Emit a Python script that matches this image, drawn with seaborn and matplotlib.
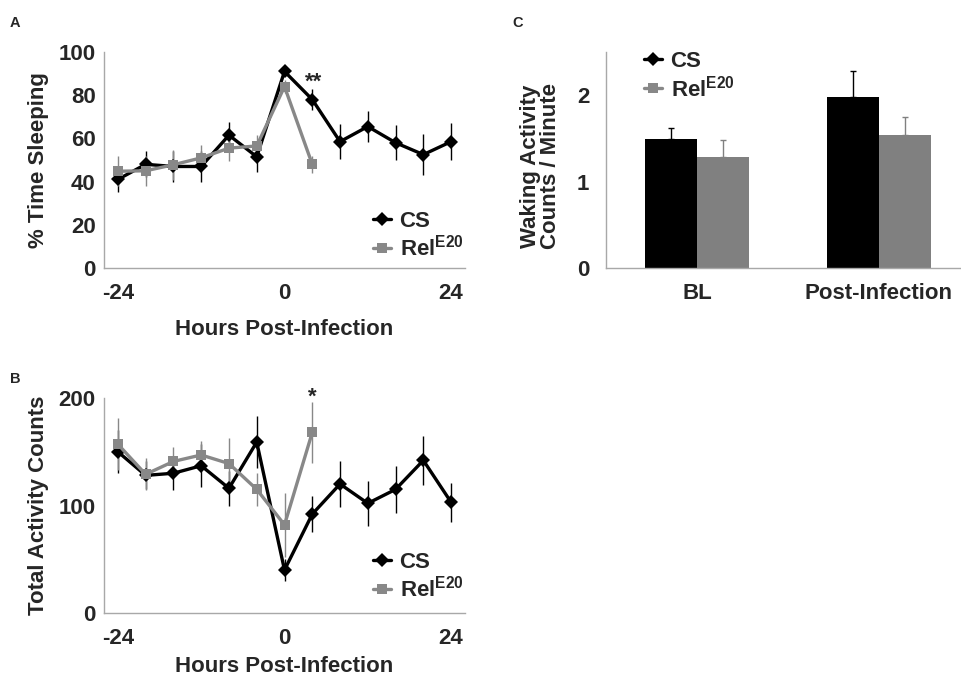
import numpy as np
import pandas as pd
import matplotlib
matplotlib.use("Agg")
import matplotlib.pyplot as plt
from matplotlib.lines import Line2D
from matplotlib.ticker import MultipleLocator, FixedLocator, NullFormatter
import seaborn as sns

# ---------------- data ----------------
hours_cs = [-24, -20, -16, -12, -8, -4, 0, 4, 8, 12, 16, 20, 24]
hours_rel = [-24, -20, -16, -12, -8, -4, 0, 4]

cs_sleep = [41.0, 48.0, 47.0, 47.0, 61.5, 51.5, 91.0, 78.0, 58.5, 65.5, 58.0, 52.5, 58.5]
cs_sleep_err = [6, 6, 7, 7, 6, 7, 2, 5, 8, 7, 8, 9.5, 8.5]
rel_sleep = [44.8, 45.0, 47.8, 51.0, 55.5, 56.5, 84.0, 48.0]
rel_sleep_err = [7, 7, 7, 6, 6, 5, 3, 4]

cs_act = [150, 128, 130, 137, 116, 159, 40, 92, 120, 102, 115, 142, 103]
cs_act_err = [20, 13, 16, 20, 16, 24, 10, 17, 21, 21, 22, 23, 18]
rel_act = [157, 129, 141, 147, 139, 115, 82, 168]
rel_act_err = [24, 15, 13, 13, 24, 15, 30, 28]

bar_conditions = ["BL", "Post-Infection"]
cs_wake = [1.49, 1.98]
cs_wake_err = [0.13, 0.30]
rel_wake = [1.29, 1.54]
rel_wake_err = [0.19, 0.21]

CS_LABEL = "CS"
REL_LABEL = "Rel$^{\\mathregular{E20}}$"
BLACK = "#000000"
GREY = "#888888"
BAR_GREY = "#808080"
AXIS_GREY = "#a8a8a8"

sns.set_theme(style="white")
plt.rcParams["font.family"] = ["Liberation Sans", "DejaVu Sans"]
plt.rcParams["font.weight"] = "bold"
plt.rcParams["axes.labelweight"] = "bold"

FS = 16

fig = plt.figure(figsize=(9.61, 6.81), dpi=100)
W, H = 961.0, 681.0

def axes_px(left, top, right, bottom):
    return fig.add_axes([left / W, 1 - bottom / H, (right - left) / W, (bottom - top) / H])

axA = axes_px(104, 52, 465, 268)
axB = axes_px(104, 398, 465, 613)
axC = axes_px(606, 52, 970, 268)

def style_axes(ax):
    for s in ["top", "right"]:
        ax.spines[s].set_visible(False)
    for s in ["left", "bottom"]:
        ax.spines[s].set_color(AXIS_GREY)
        ax.spines[s].set_linewidth(1.0)
    ax.tick_params(which="both", color=AXIS_GREY, width=0.8, direction="out")
    ax.grid(False)

LEG_KW = dict(frameon=False, fontsize=FS, handlelength=0.8, handletextpad=0.4,
              labelspacing=0.15, borderpad=0, borderaxespad=0)

def line_panel(ax, cs_vals, cs_err, rel_vals, rel_err):
    df = pd.DataFrame({
        "hour": hours_cs + hours_rel,
        "value": cs_vals + rel_vals,
        "err": cs_err + rel_err,
        "genotype": [CS_LABEL] * len(hours_cs) + [REL_LABEL] * len(hours_rel),
    })
    for g, col in [(CS_LABEL, BLACK), (REL_LABEL, GREY)]:
        sub = df[df.genotype == g]
        ax.errorbar(sub["hour"], sub["value"], yerr=sub["err"], fmt="none",
                    ecolor=col, elinewidth=1.0, capsize=0, zorder=1)
    sns.lineplot(data=df, x="hour", y="value", hue="genotype", style="genotype",
                 palette={CS_LABEL: BLACK, REL_LABEL: GREY},
                 markers={CS_LABEL: "D", REL_LABEL: "s"}, dashes=False,
                 markersize=7, markeredgewidth=0, linewidth=2.4,
                 errorbar=None, ax=ax, zorder=3)
    ax.set_xlim(-26, 26)
    ax.xaxis.set_major_locator(FixedLocator([-24, 0, 24]))
    ax.xaxis.set_minor_locator(MultipleLocator(4, offset=2))
    ax.tick_params(axis="x", which="major", length=0, pad=11, labelsize=FS)
    ax.tick_params(axis="x", which="minor", length=4)
    ax.tick_params(axis="y", which="both", length=4, pad=2, labelsize=FS)
    ax.set_xticklabels(["-24", "0", "24"], fontweight="bold")
    ax.set_xlabel("Hours Post-Infection", fontsize=FS, fontweight="bold")
    style_axes(ax)

# ---------------- panel A ----------------
line_panel(axA, cs_sleep, cs_sleep_err, rel_sleep, rel_sleep_err)
axA.set_ylim(0, 100)
axA.yaxis.set_major_locator(MultipleLocator(20))
axA.set_ylabel("% Time Sleeping", fontsize=FS, fontweight="bold")
axA.yaxis.set_label_coords(-0.152, 0.5)
axA.xaxis.set_label_coords(0.5, -0.235)
for t in axA.get_yticklabels():
    t.set_fontweight("bold")
sns.move_legend(axA, "upper left", bbox_to_anchor=(0.745, 0.265), title=None, **LEG_KW)
axA.text(4.2, 86, "**", ha="center", va="center", fontsize=FS, fontweight="bold")

# ---------------- panel B ----------------
line_panel(axB, cs_act, cs_act_err, rel_act, rel_act_err)
axB.set_ylim(0, 200)
axB.yaxis.set_major_locator(MultipleLocator(100))
axB.yaxis.set_minor_locator(MultipleLocator(50))
axB.yaxis.set_minor_formatter(NullFormatter())
axB.set_ylabel("Total Activity Counts", fontsize=FS, fontweight="bold")
axB.yaxis.set_label_coords(-0.152, 0.5)
axB.xaxis.set_label_coords(0.5, -0.2)
for t in axB.get_yticklabels():
    t.set_fontweight("bold")
sns.move_legend(axB, "upper left", bbox_to_anchor=(0.745, 0.285), title=None, **LEG_KW)
axB.text(4, 201, "*", ha="center", va="center", fontsize=FS, fontweight="bold",
         clip_on=False)

# ---------------- panel C ----------------
dfC = pd.DataFrame({
    "condition": bar_conditions * 2,
    "value": cs_wake + rel_wake,
    "err": cs_wake_err + rel_wake_err,
    "genotype": [CS_LABEL] * 2 + [REL_LABEL] * 2,
})
sns.barplot(data=dfC, x="condition", y="value", hue="genotype",
            palette={CS_LABEL: BLACK, REL_LABEL: BAR_GREY},
            width=0.57, gap=0, errorbar=None, linewidth=0, legend=False, ax=axC)
for container, g, col in zip(axC.containers, [CS_LABEL, REL_LABEL], [BLACK, BAR_GREY]):
    sub = dfC[dfC.genotype == g]
    xs = [p.get_x() + p.get_width() / 2 for p in container.patches]
    axC.errorbar(xs, sub["value"], yerr=[np.zeros(len(sub)), sub["err"]], fmt="none",
                 ecolor=col, elinewidth=1.0, capsize=2, capthick=1.0, zorder=4)
axC.set_xlim(-0.5, 1.5)
axC.set_ylim(0, 2.5)
axC.yaxis.set_major_locator(FixedLocator([0, 1, 2]))
axC.yaxis.set_minor_locator(MultipleLocator(0.5))
axC.yaxis.set_minor_formatter(NullFormatter())
axC.xaxis.set_minor_locator(FixedLocator([-0.5, 0.5, 1.5]))
axC.tick_params(axis="x", which="major", length=0, pad=11, labelsize=FS)
axC.tick_params(axis="x", which="minor", length=4)
axC.tick_params(axis="y", which="both", length=4, pad=8, labelsize=FS)
axC.set_yticklabels(["0", "1", "2"], fontweight="bold")
axC.set_xticks([0, 1])
axC.set_xticklabels(bar_conditions, fontweight="bold")
axC.set_xlabel("")
axC.set_ylabel("Waking Activity\nCounts / Minute", fontsize=FS, fontweight="bold",
               linespacing=0.95)
axC.yaxis.set_label_coords(-0.124, 0.47)
style_axes(axC)
handles = [Line2D([], [], color=BLACK, marker="D", markersize=7, linewidth=2.4, markeredgewidth=0),
           Line2D([], [], color=GREY, marker="s", markersize=7, linewidth=2.4, markeredgewidth=0)]
axC.legend(handles, [CS_LABEL, REL_LABEL], loc="upper left", bbox_to_anchor=(0.104, 1.005),
           **LEG_KW)

# panel letters
fig.text(10 / W, 1 - 23 / H, "A", fontsize=10.5, fontweight="bold", va="center")
fig.text(10 / W, 1 - 379 / H, "B", fontsize=10.5, fontweight="bold", va="center")
fig.text(512 / W, 1 - 23 / H, "C", fontsize=10.5, fontweight="bold", va="center")

fig.savefig("out.png", dpi=100)
